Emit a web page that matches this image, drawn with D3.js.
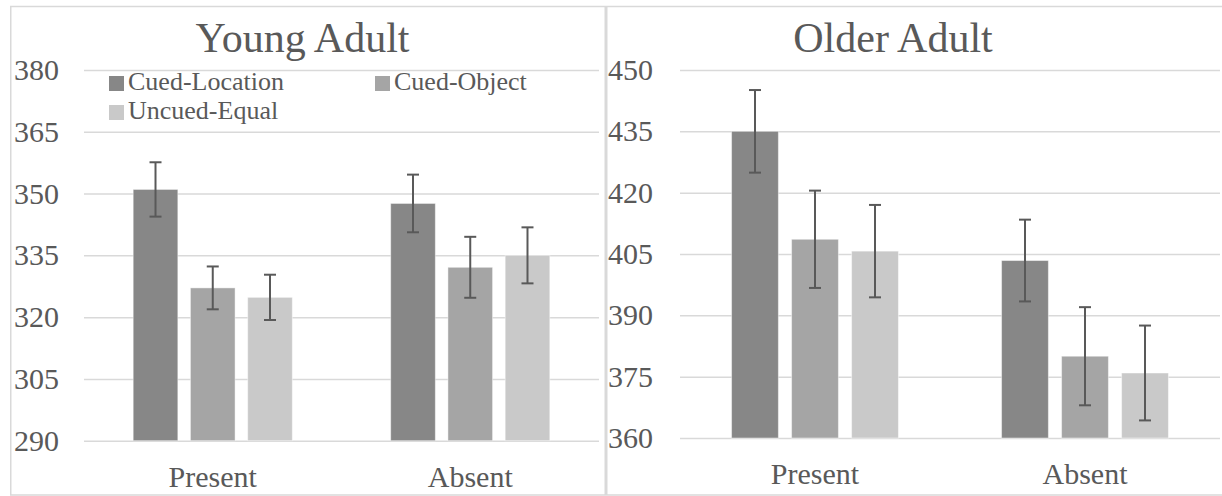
<!DOCTYPE html>
<html>
<head>
<meta charset="utf-8">
<script src="https://cdn.jsdelivr.net/npm/d3@7"></script>
<style>
  body { margin: 0; background: #ffffff; }
  svg text { font-family: "Liberation Serif", "Times New Roman", serif; fill: #595959; }
</style>
</head>
<body>
<div id="grafiek"></div>
<script>
// data
var categorieen = ["Present", "Absent"];
var condities = ["Cued-Location", "Cued-Object", "Uncued-Equal"];
var kleuren = ["#878787", "#a5a5a5", "#c9c9c9"];

var jongCuedLocation = [351.0, 347.6];
var jongCuedObject = [327.1, 332.1];
var jongUncuedEqual = [324.8, 335.0];
var jongFoutLocation = [6.6, 7.0];
var jongFoutObject = [5.2, 7.4];
var jongFoutEqual = [5.5, 6.8];
var jongTicks = [290, 305, 320, 335, 350, 365, 380];

var oudCuedLocation = [435.0, 403.4];
var oudCuedObject = [408.6, 380.0];
var oudUncuedEqual = [405.7, 375.9];
var oudFoutLocation = [10.1, 10.0];
var oudFoutObject = [11.9, 12.0];
var oudFoutEqual = [11.3, 11.6];
var oudTicks = [360, 375, 390, 405, 420, 435, 450];

var breedte = 1222, hoogte = 496;

var svg = d3.select("#grafiek")
            .append("svg")
            .attr("width", breedte)
            .attr("height", hoogte);

// maak een rij per categorie met waarden en foutmarges
function maakRijen(waarden, fouten) {
  return categorieen.map(function(c, i) {
    return {
      categorie: c,
      balken: condities.map(function(s, j) {
        return {conditie: s, waarde: waarden[j][i], fout: fouten[j][i], kleur: kleuren[j]};
      })
    };
  });
}

function paneel(opties) {
  // kader
  svg.append("rect")
     .attr("x", opties.kader[0])
     .attr("y", 6.5)
     .attr("width", opties.kader[1] - opties.kader[0])
     .attr("height", 488.5)
     .attr("fill", "none")
     .attr("stroke", "#d9d9d9")
     .attr("stroke-width", 1.5);

  var x0 = d3.scaleBand()
             .domain(categorieen)
             .range([opties.links, opties.rechts]);

  var y = d3.scaleLinear()
            .domain([opties.ticks[0], opties.ticks[opties.ticks.length - 1]])
            .range([opties.onder, 70]);

  var groep = x0.bandwidth() * 0.618;
  var x1 = d3.scaleBand()
             .domain(condities)
             .range([-groep / 2, groep / 2])
             .paddingInner(0.22);

  // y-as met rasterlijnen
  var asY = d3.axisLeft(y)
              .tickValues(opties.ticks)
              .tickSize(-(opties.rechts - opties.links))
              .tickPadding(opties.links - opties.labelX);

  var gY = svg.append("g")
              .attr("transform", "translate(" + opties.links + ",0)")
              .call(asY);
  gY.select(".domain").remove();
  gY.selectAll("line").attr("stroke", "#d9d9d9").attr("stroke-width", 1.5);
  gY.selectAll("text")
    .attr("font-size", "30px")
    .attr("fill", "#595959")
    .style("font-family", "'Liberation Serif', 'Times New Roman', serif");

  // x-as labels
  var asX = d3.axisBottom(x0).tickSize(0).tickPadding(25);
  var gX = svg.append("g")
              .attr("transform", "translate(0," + opties.onder + ")")
              .call(asX);
  gX.select(".domain").remove();
  gX.selectAll("text")
    .attr("font-size", "30px")
    .attr("fill", "#595959")
    .style("font-family", "'Liberation Serif', 'Times New Roman', serif");

  // titel
  svg.append("text")
     .attr("x", opties.titelX)
     .attr("y", 52)
     .attr("text-anchor", "middle")
     .attr("font-size", "42px")
     .text(opties.titel);

  var rijen = maakRijen(opties.waarden, opties.fouten);

  var groepen = svg.selectAll(".groep" + opties.id)
                   .data(rijen)
                   .enter()
                   .append("g")
                   .attr("class", "groep" + opties.id)
                   .attr("transform", function(d) {
                     return "translate(" + (x0(d.categorie) + x0.bandwidth() / 2) + ",0)"; });

  // balken
  groepen.selectAll("rect")
         .data(function(d) { return d.balken; })
         .enter()
         .append("rect")
         .attr("x", function(d) { return x1(d.conditie); })
         .attr("y", function(d) { return y(d.waarde); })
         .attr("width", x1.bandwidth())
         .attr("height", function(d) { return opties.onder - y(d.waarde); })
         .attr("fill", function(d) { return d.kleur; })
         .attr("stroke", "#ffffff")
         .attr("stroke-opacity", 0.45)
         .attr("stroke-width", 1);

  // foutbalken
  var fout = groepen.selectAll(".fout")
                    .data(function(d) { return d.balken; })
                    .enter()
                    .append("g")
                    .attr("class", "fout")
                    .attr("stroke", "#595959")
                    .attr("stroke-width", 2);

  fout.append("line")
      .attr("x1", function(d) { return x1(d.conditie) + x1.bandwidth() / 2; })
      .attr("x2", function(d) { return x1(d.conditie) + x1.bandwidth() / 2; })
      .attr("y1", function(d) { return y(d.waarde + d.fout); })
      .attr("y2", function(d) { return y(d.waarde - d.fout); });

  [1, -1].forEach(function(teken) {
    fout.append("line")
        .attr("x1", function(d) { return x1(d.conditie) + x1.bandwidth() / 2 - 6; })
        .attr("x2", function(d) { return x1(d.conditie) + x1.bandwidth() / 2 + 6; })
        .attr("y1", function(d) { return y(d.waarde + teken * d.fout); })
        .attr("y2", function(d) { return y(d.waarde + teken * d.fout); });
  });
}

paneel({
  id: "jong", titel: "Young Adult", titelX: 302.5,
  kader: [10.75, 605.25], links: 84, rechts: 599, onder: 440.7, labelX: 59,
  ticks: jongTicks,
  waarden: [jongCuedLocation, jongCuedObject, jongUncuedEqual],
  fouten: [jongFoutLocation, jongFoutObject, jongFoutEqual]
});

paneel({
  id: "oud", titel: "Older Adult", titelX: 893,
  kader: [606.75, 1232], links: 680, rechts: 1220, onder: 438, labelX: 653,
  ticks: oudTicks,
  waarden: [oudCuedLocation, oudCuedObject, oudUncuedEqual],
  fouten: [oudFoutLocation, oudFoutObject, oudFoutEqual]
});

// legenda in het linker paneel
var legendaPlek = [[109, 76], [375, 76], [109, 105]];
var legenda = svg.selectAll(".legenda")
                 .data(condities)
                 .enter()
                 .append("g")
                 .attr("class", "legenda")
                 .attr("transform", function(d, i) {
                   return "translate(" + legendaPlek[i][0] + "," + legendaPlek[i][1] + ")"; });

legenda.append("rect")
       .attr("width", 15)
       .attr("height", 15)
       .attr("fill", function(d, i) { return kleuren[i]; });

legenda.append("text")
       .attr("x", 19)
       .attr("y", 14)
       .attr("font-size", "26px")
       .text(function(d) { return d; });
</script>
</body>
</html>
